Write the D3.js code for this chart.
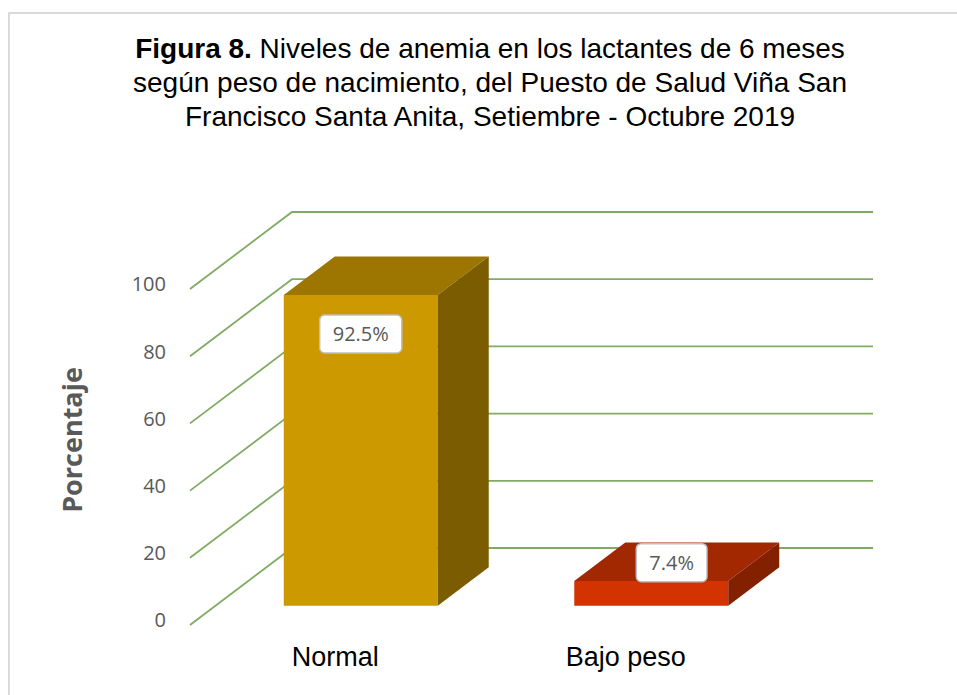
<!DOCTYPE html>
<html>
<head>
<meta charset="utf-8">
<script src="https://cdn.jsdelivr.net/npm/d3@7"></script>
<style>
  body { margin: 0; background: #fff; }
  svg { display: block; }
</style>
</head>
<body>
<div id="chart"></div>
<script>
// data
const categories = ['Normal', 'Bajo peso'];
const values = [92.5, 7.4];
const valueLabels = ['92.5%', '7.4%'];
const yTicks = [0, 20, 40, 60, 80, 100];
const titleLines = [
  ['Figura 8.', ' Niveles de anemia en los lactantes de 6 meses'],
  ['', 'según peso de nacimiento, del Puesto de Salud Viña San'],
  ['', 'Francisco Santa Anita, Setiembre - Octubre 2019']
];
const faceColors = [
  { front: '#cc9900', top: '#9c7600', side: '#7b5d00' },
  { front: '#d23300', top: '#a12800', side: '#832000' }
];

const width = 957, height = 695;
// front floor edge and depth vector of the 3D box
const floorLeft = 190, floorRight = 771, floorY = 625;
const depth = { dx: 102, dy: -77 };

const svg = d3.select('#chart').append('svg')
  .attr('width', width).attr('height', height);

// outer frame
svg.append('path')
  .attr('d', `M9,${height} V13 H${width}`)
  .attr('fill', 'none').attr('stroke', '#d9d9d9').attr('stroke-width', 2);

// title, one text per line so each line is centred as a whole
titleLines.forEach((ln, i) => {
  const t = svg.append('text')
    .attr('x', 490).attr('y', 58 + i * 34)
    .attr('text-anchor', 'middle')
    .style('font-family', '"Liberation Sans", Arial, sans-serif')
    .style('font-size', '28px').attr('fill', '#000');
  if (ln[0]) t.append('tspan').style('font-weight', 'bold').text(ln[0]);
  t.append('tspan').text(ln[1]);
});

const x = d3.scaleBand().domain(categories).range([floorLeft, floorRight]);
const y = d3.scaleLinear().domain([0, 100]).range([floorY, floorY - 336]);

// gridlines: diagonal on the side wall, then horizontal on the back wall
const grid = svg.append('g');
yTicks.forEach(v => {
  const yf = y(v), yb = y(v) + depth.dy;
  grid.append('path')
    .attr('d', `M${floorLeft},${yf} L${floorLeft + depth.dx},${yb} H${floorRight + depth.dx}`)
    .attr('fill', 'none').attr('stroke', '#7fab63').attr('stroke-width', 1.8);
});

// y tick labels
svg.append('g').selectAll('text').data(yTicks).join('text')
  .attr('x', 166).attr('y', d => y(d) - 3)
  .attr('text-anchor', 'end').attr('dominant-baseline', 'middle')
  .style('font-family', '"Open Sans", "Noto Sans", sans-serif')
  .style('font-size', '20px').attr('fill', '#595959')
  .text(d => d);

// axis title
svg.append('text')
  .attr('transform', `translate(82,440) rotate(-90)`)
  .attr('text-anchor', 'middle')
  .style('font-family', '"Open Sans", "Noto Sans", sans-serif')
  .style('font-size', '27px').style('font-weight', 'bold').attr('fill', '#595959')
  .text('Porcentaje');

// bars as boxes sitting from 25% to 75% of the depth
const barFrac = 0.53;
const d0 = 0.25, d1 = 0.75;
const bars = svg.append('g');
categories.forEach((c, i) => {
  const bw = x.bandwidth() * barFrac;
  const x0 = x(c) + (x.bandwidth() - bw) / 2 + depth.dx * d0;
  const x1 = x0 + bw;
  const yb = y(0) + depth.dy * d0;
  const yt = y(values[i]) + depth.dy * d0;
  const ddx = depth.dx * (d1 - d0), ddy = depth.dy * (d1 - d0);
  const col = faceColors[i];
  bars.append('rect').attr('x', x0).attr('y', yt).attr('width', bw).attr('height', yb - yt)
    .attr('fill', col.front);
  bars.append('path')
    .attr('d', `M${x0},${yt} L${x1},${yt} L${x1 + ddx},${yt + ddy} L${x0 + ddx},${yt + ddy} Z`)
    .attr('fill', col.top);
  bars.append('path')
    .attr('d', `M${x1},${yt} L${x1 + ddx},${yt + ddy} L${x1 + ddx},${yb + ddy} L${x1},${yb} Z`)
    .attr('fill', col.side);

  // data label
  let cx, cy;
  if (yb - yt > 80) { cx = (x0 + x1) / 2; cy = yt + 39; }
  else { cx = (x0 + x1) / 2 + ddx * 0.4; cy = yt + ddy * 0.5 + 1; }
  const lab = svg.append('g').attr('transform', `translate(${cx},${cy})`);
  const txt = lab.append('text')
    .attr('text-anchor', 'middle').attr('dominant-baseline', 'central')
    .style('font-family', '"Open Sans", "Noto Sans", sans-serif')
    .style('font-size', '20px').attr('fill', '#595959')
    .text(valueLabels[i]);
  const tw = txt.node().getComputedTextLength();
  lab.insert('rect', 'text')
    .attr('x', -tw / 2 - 13).attr('y', -19).attr('width', tw + 26).attr('height', 38)
    .attr('rx', 5).attr('fill', '#fff').attr('stroke', '#bfbfbf').attr('stroke-width', 1.5);
});

// category labels
svg.append('g').selectAll('text').data(categories).join('text')
  .attr('x', d => x(d) + x.bandwidth() / 2)
  .attr('y', 666)
  .attr('text-anchor', 'middle')
  .style('font-family', '"Liberation Sans", Arial, sans-serif')
  .style('font-size', '27px').attr('fill', '#000')
  .text(d => d);
</script>
</body>
</html>
